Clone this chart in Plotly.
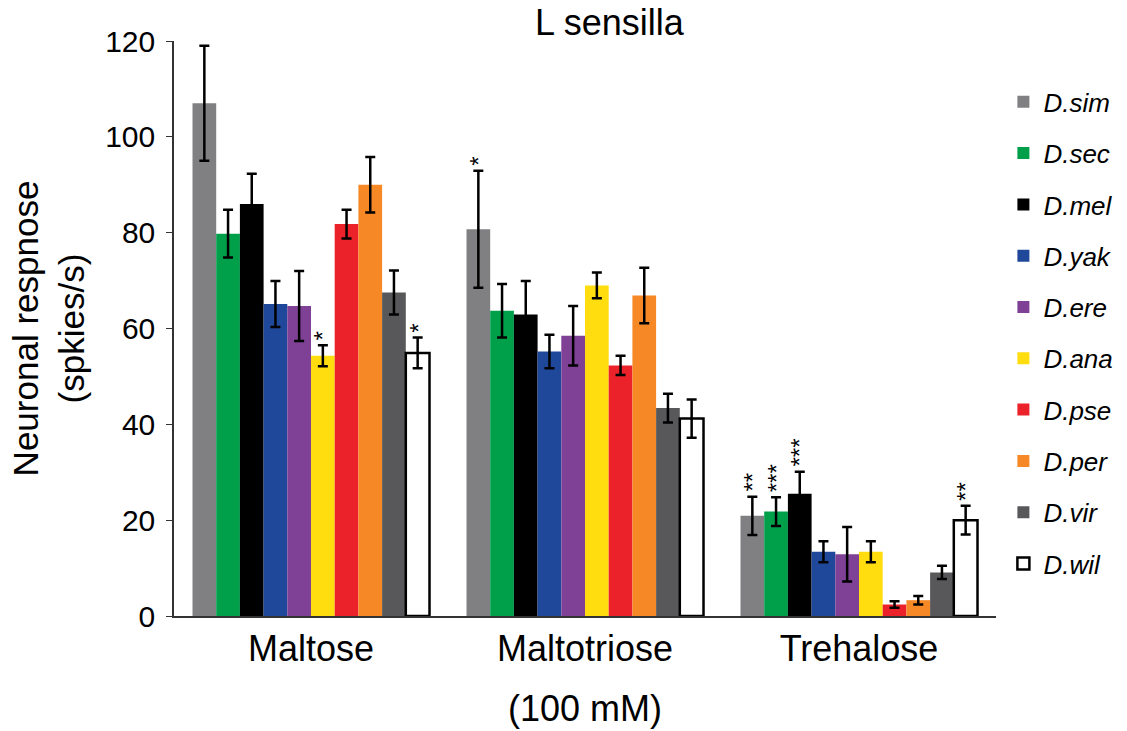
import plotly.graph_objects as go

sugars = ["Maltose", "Maltotriose", "Trehalose"]
species = ["D.sim", "D.sec", "D.mel", "D.yak", "D.ere",
           "D.ana", "D.pse", "D.per", "D.vir", "D.wil"]
colors = ["#808083", "#00A04B", "#000000", "#20489A", "#7F4196",
          "#FFDD0F", "#EB2229", "#F78826", "#58585A", "#FFFFFF"]

# mean responses (spikes/s) and SEM, one entry per species
maltose_mean = [107.0, 79.8, 86.0, 65.1, 64.7, 54.3, 81.8, 90.0, 67.5, 54.9]
maltose_sem = [12.0, 5.0, 6.3, 4.8, 7.3, 2.2, 3.0, 5.8, 4.6, 3.2]
maltotriose_mean = [80.7, 63.7, 62.9, 55.2, 58.5, 69.0, 52.3, 66.9, 43.4, 41.2]
maltotriose_sem = [12.2, 5.6, 7.0, 3.5, 6.2, 2.7, 2.0, 5.8, 3.0, 4.0]
trehalose_mean = [20.9, 21.8, 25.5, 13.4, 12.9, 13.4, 2.4, 3.3, 9.1, 20.0]
trehalose_sem = [4.0, 3.0, 4.6, 2.2, 5.7, 2.2, 0.7, 0.9, 1.4, 3.0]

# significance marks
maltose_sig = ["", "", "", "", "", "*", "", "", "", "*"]
maltotriose_sig = ["*", "", "", "", "", "", "", "", "", ""]
trehalose_sig = ["**", "***", "***", "", "", "", "", "", "", "**"]

means = [maltose_mean, maltotriose_mean, trehalose_mean]
sems = [maltose_sem, maltotriose_sem, trehalose_sem]
sigs = [maltose_sig, maltotriose_sig, trehalose_sig]

FONT = "Liberation Sans, Arial, sans-serif"
BARGAP = 0.135

fig = go.Figure()
for i, name in enumerate(species):
    is_open = name == "D.wil"
    fig.add_trace(go.Bar(
        name=name,
        legendgroup=name,
        x=sugars,
        y=[m[i] for m in means],
        marker=dict(color=colors[i],
                    line=dict(color="#000000" if is_open else colors[i],
                              width=2.5 if is_open else 0)),
        error_y=dict(type="data", array=[s[i] for s in sems],
                     color="#000000", thickness=2.5, width=5),
    ))

# significance stars above the error bars
bar_w = (1 - BARGAP) / len(species)
for k, sugar in enumerate(sugars):
    for i in range(len(species)):
        mark = sigs[k][i]
        if not mark:
            continue
        fig.add_annotation(
            x=k + (i - (len(species) - 1) / 2) * bar_w,
            y=means[k][i] + sems[k][i],
            text=mark, showarrow=False, textangle=-90,
            xanchor="center", yanchor="bottom", yshift=3,
            font=dict(family=FONT, size=24, color="#000000"),
        )

fig.add_annotation(x=0.53, y=1.0, xref="paper", yref="paper",
                   text="L sensilla", showarrow=False,
                   xanchor="center", yanchor="bottom", yshift=-4,
                   font=dict(family=FONT, size=36, color="#000000"))
fig.add_annotation(x=1, y=-0.16, xref="x", yref="paper",
                   text="(100 mM)", showarrow=False,
                   xanchor="center", yanchor="middle",
                   font=dict(family=FONT, size=36, color="#000000"))

fig.update_layout(
    width=1127, height=731,
    margin=dict(l=174, r=131, t=41, b=115, autoexpand=False),
    paper_bgcolor="white", plot_bgcolor="white",
    barmode="group", bargap=BARGAP, bargroupgap=0,
    font=dict(family=FONT, color="#000000"),
    showlegend=True,
    legend=dict(x=1.009, y=0.935, xanchor="left", yanchor="top",
                font=dict(family=FONT, size=26, style="italic"),
                tracegroupgap=14.5, bgcolor="rgba(0,0,0,0)"),
    xaxis=dict(showline=True, linecolor="#333333", linewidth=1.5,
               ticks="", tickfont=dict(size=36), showgrid=False),
    yaxis=dict(range=[0, 120], dtick=20, showline=True, linecolor="#333333",
               linewidth=1.5, ticks="outside", ticklen=6, tickcolor="#333333",
               tickfont=dict(size=30), ticklabelstandoff=5,
               showgrid=False, zeroline=False,
               title=dict(text="Neuronal respnose<br>(spkies/s)",
                          font=dict(size=35), standoff=10)),
)

fig.write_html("out.html")
